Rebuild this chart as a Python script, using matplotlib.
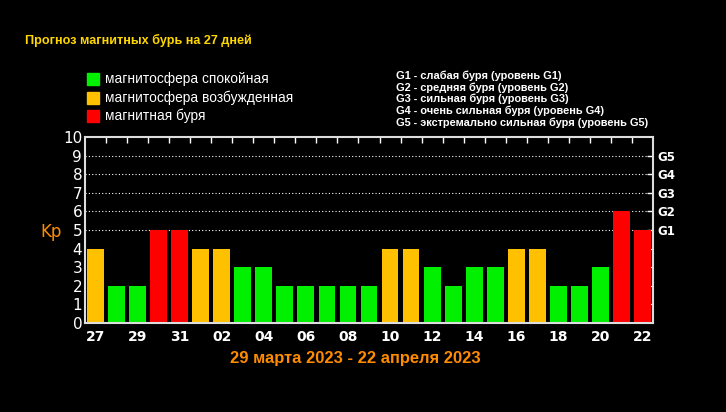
import matplotlib.pyplot as plt

# data
days = ['27', '28', '29', '30', '31', '01', '02', '03', '04', '05', '06', '07', '08', '09',
        '10', '11', '12', '13', '14', '15', '16', '17', '18', '19', '20', '21', '22']
kp = [4, 2, 2, 5, 5, 4, 4, 3, 3, 2, 2, 2, 2, 2,
      4, 4, 3, 2, 3, 3, 4, 4, 2, 2, 3, 6, 5]
g_levels = ['G1', 'G2', 'G3', 'G4', 'G5']
g_notes = ['G1 - слабая буря (уровень G1)',
           'G2 - средняя буря (уровень G2)',
           'G3 - сильная буря (уровень G3)',
           'G4 - очень сильная буря (уровень G4)',
           'G5 - экстремально сильная буря (уровень G5)']
legend_labels = ['магнитосфера спокойная', 'магнитосфера возбужденная', 'магнитная буря']

GREEN = '#00F000'
YELLOW = '#FFC000'
RED = '#FF0000'
legend_colors = [GREEN, YELLOW, RED]
FONT = 'Liberation Sans'


def bar_color(v):
    if v >= 5:
        return RED
    if v == 4:
        return YELLOW
    return GREEN


W, H = 726, 412
fig = plt.figure(figsize=(W / 100, H / 100), dpi=100, facecolor='black')
# axes box in pixels: left 85, right 653, top 137, bottom 323
ax = fig.add_axes([85 / W, 1 - 323 / H, (653 - 85) / W, (323 - 137) / H])
ax.set_facecolor('black')

x = list(range(len(days)))
for v in [5, 6, 7, 8, 9]:
    ax.axhline(v, color='white', lw=0.8, ls=(0, (1, 2)), zorder=1)
ax.bar(x, kp, width=0.8, color=[bar_color(v) for v in kp], zorder=2)

ax.set_xlim(-0.5, len(days) - 0.5)
ax.set_ylim(0, 10)
for s in ax.spines.values():
    s.set_color('#dddddd')
    s.set_linewidth(1.5)

ax.set_yticks(range(11))
ax.set_yticklabels([str(i) for i in range(11)], color='white', fontsize=11,
                   family='DejaVu Sans')
ax.tick_params(axis='y', length=0, pad=2)
ax.set_xticks(x[::2])
ax.set_xticklabels(days[::2], color='white', fontsize=10, fontweight='bold')
ax.tick_params(axis='x', length=0, pad=5)

# small ticks on top edge between bars and on right edge at integers
top = ax.secondary_xaxis('top')
top.set_xticks([i + 0.5 for i in x[:-1]])
top.set_xticklabels([])
top.tick_params(direction='in', length=4, color='white', width=1)
top.spines['top'].set_visible(False)
right = ax.secondary_yaxis('right')
right.set_yticks(range(1, 10))
right.set_yticklabels(['', '', '', ''] + g_levels)
right.tick_params(direction='in', length=4, color='white', width=1,
                  labelcolor='white', labelsize=8.5)
for t in right.get_yticklabels():
    t.set_fontweight('bold')
right.spines['right'].set_visible(False)

fig.text(40 / W, 1 - 232 / H, 'Kp', color='#FF8C00', fontsize=12, va='center')

fig.text(25 / W, 1 - 40 / H, 'Прогноз магнитных бурь на 27 дней', color='#FFD700',
         fontsize=9.1, fontweight='bold', va='center', family=FONT)

for i, (lab, c) in enumerate(zip(legend_labels, legend_colors)):
    y = 79 + i * 18.5
    fig.patches.append(plt.Rectangle((87 / W, 1 - (y + 6) / H), 12 / W, 12 / H,
                                     transform=fig.transFigure, color=c))
    fig.text(105 / W, 1 - y / H, lab, color='white', fontsize=9.9, va='center',
             family=FONT)

for i, note in enumerate(g_notes):
    fig.text(396 / W, 1 - (76 + i * 11.6) / H, note, color='white', fontsize=7.95,
             fontweight='bold', va='center', family=FONT)

fig.text(355 / W, 1 - 358 / H, '29 марта 2023 - 22 апреля 2023', color='#FF8C00',
         fontsize=11.9, fontweight='bold', ha='center', va='center', family=FONT)

fig.savefig('out.png', dpi=100, facecolor='black')
